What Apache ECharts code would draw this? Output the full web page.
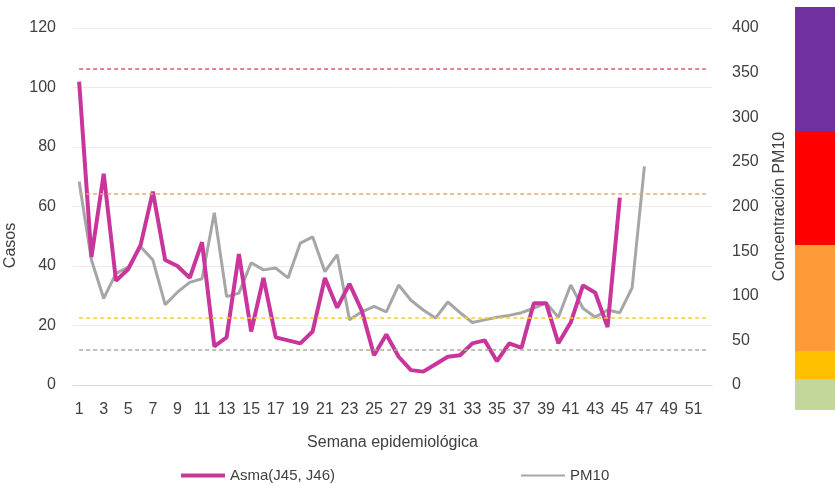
<!DOCTYPE html>
<html>
<head>
<meta charset="utf-8">
<script src="https://cdn.jsdelivr.net/npm/echarts@6/dist/echarts.min.js"></script>
<style>
  html, body { margin: 0; padding: 0; background: #fff; }
  #main { width: 835px; height: 484px; }
</style>
</head>
<body>
<div id="main"></div>
<script>
// semanas epidemiologicas 1..52
var semanas = [];
for (var s = 1; s <= 52; s++) semanas.push(String(s));

// casos de asma (eje izq.)
var asma = [102, 43, 71, 35, 39, 47, 65, 42, 40, 36, 48, 13, 16, 44, 18, 36, 16, 15, 14, 18,
            36, 26, 34, 25, 10, 17, 9.5, 5, 4.5, 7, 9.5, 10, 14, 15, 8, 14, 12.5, 27.5, 27.5, 14,
            21, 33.5, 31, 19.5, 63];

// concentracion PM10 (eje der.)
var pm10 = [228, 140, 97, 125, 132, 155, 140, 90, 104, 115, 119, 193, 99, 103, 137, 129, 131, 120, 159, 166,
            127, 146, 73, 82, 88, 82, 112, 95, 84, 75, 93, 81, 70, 73, 76, 78, 81, 86, 92, 76,
            112, 86, 76, 84, 81, 109, 245];

// limites PM10 (lineas punteadas)
var limites = [354, 214, 75, 40];
var limiteColores = ['#e4566a', '#e7a77a', '#f0d12a', '#a9ad98'];

// barra de colores a la derecha (de abajo hacia arriba)
var bandas = [31, 28, 106, 114, 124];
var bandaColores = ['#c4d79b', '#ffc000', '#fe9a38', '#ff0000', '#7030a0'];

var nombreAsma = 'Asma(J45, J46)';
var fuente = 'Liberation Sans';

var myChart = echarts.init(document.getElementById('main'));

var lineasLimite = limites.map(function (v, i) {
    return [
        { coord: ['1', v], lineStyle: { color: limiteColores[i] } },
        { coord: ['52', v] }
    ];
});

var seriesBandas = bandas.map(function (v, i) {
    return {
        type: 'bar',
        xAxisIndex: 1,
        yAxisIndex: 2,
        stack: 'bandas',
        barWidth: '100%',
        silent: true,
        itemStyle: { color: bandaColores[i] },
        data: [v]
    };
});

var option = {
    backgroundColor: '#fff',
    textStyle: { fontFamily: fuente },
    animation: false,
    grid: [
        { left: 73, right: 123, top: 28, bottom: 99, outerBoundsMode: 'none' },
        { left: 795, right: 0, top: 7, bottom: 74, outerBoundsMode: 'none' }
    ],
    legend: {
        left: 176,
        top: 463,
        itemWidth: 44,
        itemHeight: 10,
        itemGap: 186,
        textStyle: { fontFamily: fuente, fontSize: 15, color: '#404040' },
        data: [
            { name: nombreAsma, icon: 'path://M0,0H44V4H0Z' },
            { name: 'PM10', icon: 'path://M0,0H44V2H0Z' }
        ]
    },
    xAxis: [
        {
            type: 'category',
            data: semanas,
            boundaryGap: true,
            name: 'Semana epidemiológica',
            nameLocation: 'middle',
            nameGap: 50,
            nameTextStyle: { fontSize: 16, color: '#404040' },
            axisTick: { show: false },
            axisLine: { lineStyle: { color: '#d9d9d9' } },
            axisLabel: { interval: 1, fontSize: 16, color: '#404040', margin: 17 }
        },
        { type: 'category', gridIndex: 1, data: ['b'], show: false }
    ],
    yAxis: [
        {
            type: 'value',
            min: 0, max: 120, interval: 20,
            name: 'Casos',
            nameLocation: 'middle',
            nameGap: 43,
            nameTextStyle: { fontSize: 16, color: '#404040', padding: [0, 78, 0, 0] },
            axisLine: { show: false },
            axisTick: { show: false },
            axisLabel: { fontSize: 16, color: '#404040', margin: 17 },
            splitLine: { lineStyle: { color: '#ececec' } }
        },
        {
            type: 'value',
            min: 0, max: 400, interval: 50,
            name: 'Concentración PM10',
            nameLocation: 'middle',
            nameGap: 60,
            nameTextStyle: { fontSize: 16, color: '#404040' },
            axisLine: { show: false },
            axisTick: { show: false },
            axisLabel: { fontSize: 16, color: '#404040', margin: 20 },
            splitLine: { show: false }
        },
        { type: 'value', gridIndex: 1, min: 0, max: 403, show: false }
    ],
    series: [
        {
            name: 'PM10',
            type: 'line',
            yAxisIndex: 1,
            data: pm10,
            symbol: 'none',
            lineStyle: { color: '#a6a6a6', width: 3 },
            itemStyle: { color: '#a6a6a6' },
            z: 2,
            markLine: {
                silent: true,
                symbol: 'none',
                label: { show: false },
                lineStyle: { type: [4, 3], width: 1.5 },
                data: lineasLimite
            }
        },
        {
            name: nombreAsma,
            type: 'line',
            data: asma,
            symbol: 'none',
            lineStyle: { color: '#c9359b', width: 4 },
            itemStyle: { color: '#c9359b' },
            z: 3
        }
    ].concat(seriesBandas)
};

myChart.setOption(option);
</script>
</body>
</html>
